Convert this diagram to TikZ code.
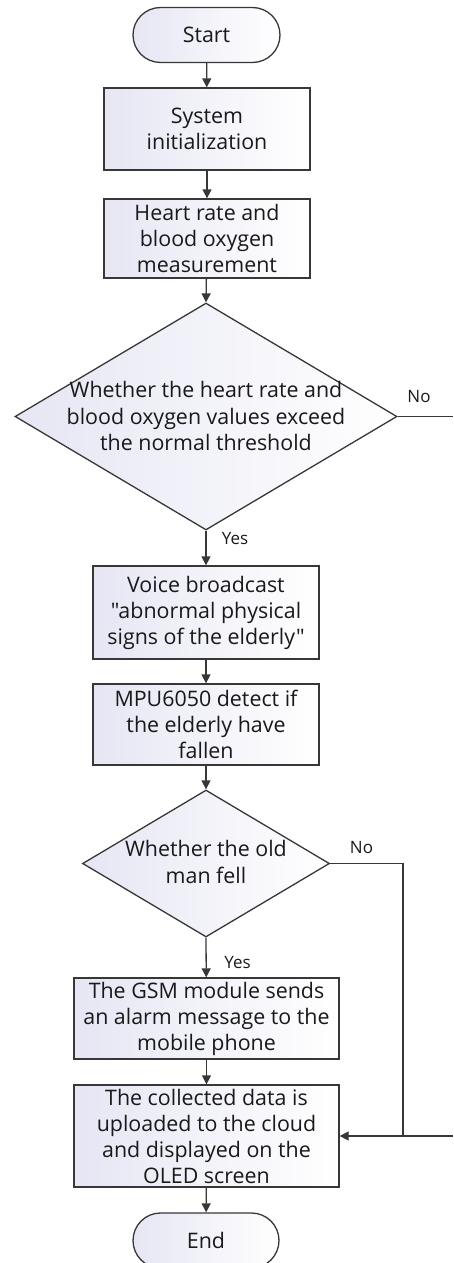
\documentclass[tikz,border=0pt]{standalone}
\usepackage{fontspec}
\setmainfont{Open Sans}[Ligatures=TeXOff]
\usetikzlibrary{arrows.meta,shapes.geometric,shapes.misc}
\definecolor{ln}{RGB}{55,55,55}
\definecolor{txt}{RGB}{25,25,25}
\definecolor{fl}{RGB}{230,230,244}
\tikzset{
  base/.style={draw=ln, line width=1.3pt, inner sep=0pt, left color=fl, right color=white, text=txt, align=center,
    font=\fontsize{21.4}{26}\selectfont},
  procbox/.style={base, rectangle},
  termbox/.style={base, rounded rectangle},
  decbox/.style={base, diamond},
  dtext/.style={text=txt, align=center, inner sep=0pt, font=\fontsize{21.4}{26.5}\selectfont},
  lab/.style={text=txt, inner sep=0pt, font=\fontsize{17}{20}\selectfont},
  conn/.style={draw=ln, line width=1.3pt},
  arr/.style={conn, -{Triangle[length=9pt,width=9pt]}}
}
\begin{document}
\begin{tikzpicture}[x=1pt,y=-1pt]
\useasboundingbox (0,0) rectangle (453,1263);
\clip (0,0) rectangle (453,1263);
\node[termbox, minimum width=147pt, minimum height=55pt] (start) at (206.5,35) {Start};
\node[procbox, minimum width=206pt, minimum height=82pt] (init) at (207,129) {System\\initialization};
\node[procbox, minimum width=206pt, minimum height=79pt] (meas) at (207,238.5) {Heart rate and\\blood oxygen\\measurement};
\node[decbox, minimum width=382pt, minimum height=227pt] (d1) at (206,416.5) {};
\node[dtext] (d1t) at (206,416) {Whether the heart rate and\\blood oxygen values exceed\\the normal threshold};
\node[procbox, minimum width=226pt, minimum height=93pt] (voice) at (206,612.5) {Voice broadcast\\"abnormal physical\\signs of the elderly"};
\node[procbox, minimum width=226pt, minimum height=81pt] (mpu) at (206,724.5) {MPU6050 detect if\\the elderly have\\fallen};
\node[decbox, minimum width=247pt, minimum height=147pt] (d2) at (206,863.5) {};
\node[dtext] (d2t) at (206,862) {Whether the old\\man fell};
\node[procbox, minimum width=265pt, minimum height=81pt] (gsm) at (206.5,1018.5) {The GSM module sends\\an alarm message to the\\mobile phone};
\node[procbox, minimum width=265pt, minimum height=102pt] (cloud) at (206.5,1136) {The collected data is\\uploaded to the cloud\\and displayed on the\\OLED screen};
\node[termbox, minimum width=146pt, minimum height=55pt] (end) at (206,1240.5) {End};
\node[lab] (y1) at (235,539) {Yes};
\node[lab] (n1) at (419,397) {No};
\node[lab] (n2) at (361.5,848) {No};
\node[lab] (y2) at (237.5,963) {Yes};
\coordinate (e1) at (453,416.5);
\coordinate (c2) at (403,863.5);
\coordinate (e2) at (453,1136);
\draw[arr] (start) -- (init);
\draw[arr] (init) -- (meas);
\draw[arr] (meas) -- (d1.north);
\draw[arr] (d1.south) -- (voice);
\draw[conn] (d1.east) -- (e1);
\draw[arr] (voice) -- (mpu);
\draw[arr] (mpu) -- (d2.north);
\draw[arr] (d2.south) -- (gsm);
\draw[arr] (d2.east) -- (c2) |- (cloud.east);
\draw[conn] (e2) -- (c2 |- e2);
\draw[arr] (gsm) -- (cloud);
\draw[arr] (cloud) -- (end);
\end{tikzpicture}
\end{document}
